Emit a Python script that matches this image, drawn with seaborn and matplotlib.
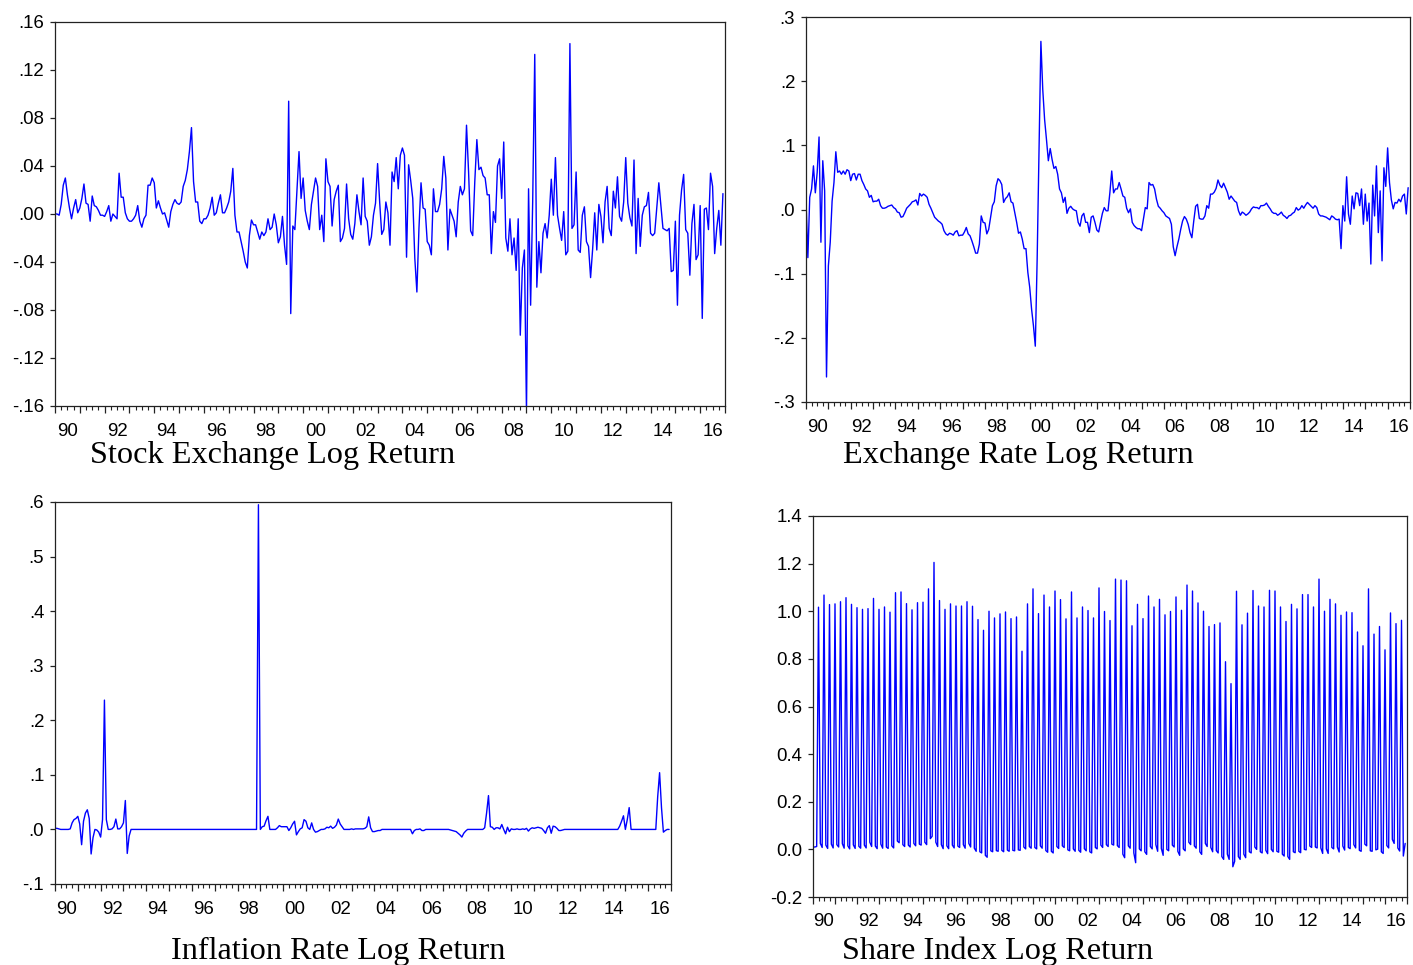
import numpy as np
import pandas as pd
import matplotlib
matplotlib.use("Agg")
import matplotlib.pyplot as plt
import matplotlib.transforms as mtransforms
from matplotlib.ticker import FuncFormatter, MultipleLocator
import seaborn as sns

# ---------------- data (monthly, 1990M01 - 2016M12) ----------------
start_year = 1990
end_year = 2017

stock_return = [
    0.000, 0.000, -0.001, 0.008, 0.024, 0.030, 0.016, 0.005, -0.004, 0.005, 0.012, 0.001,
    0.005, 0.013, 0.025, 0.009, 0.008, -0.006, 0.015, 0.007, 0.006, 0.003, -0.001, -0.001,
    -0.002, 0.002, 0.007, -0.006, 0.000, -0.002, -0.004, 0.034, 0.014, 0.014, 0.001, -0.004,
    -0.006, -0.006, -0.004, -0.001, 0.007, -0.006, -0.011, -0.004, -0.001, 0.024, 0.024, 0.030,
    0.026, 0.005, 0.011, 0.005, 0.000, 0.001, -0.005, -0.011, 0.002, 0.008, 0.012, 0.009,
    0.008, 0.010, 0.023, 0.028, 0.037, 0.052, 0.072, 0.027, 0.010, 0.010, -0.006, -0.008,
    -0.004, -0.004, -0.001, 0.005, 0.014, -0.001, 0.001, 0.009, 0.016, 0.001, 0.001, 0.005,
    0.010, 0.019, 0.038, -0.001, -0.015, -0.015, -0.023, -0.031, -0.040, -0.045, -0.018, -0.005,
    -0.009, -0.009, -0.015, -0.021, -0.015, -0.018, -0.015, -0.004, -0.013, -0.011, 0.000, -0.009,
    -0.024, -0.019, -0.002, -0.026, -0.042, 0.094, -0.083, -0.010, -0.013, 0.019, 0.052, 0.013,
    0.030, 0.003, -0.006, -0.013, 0.008, 0.019, 0.030, 0.023, -0.013, -0.001, -0.023, 0.046,
    0.027, 0.023, -0.010, 0.012, 0.019, 0.024, -0.023, -0.020, -0.012, 0.025, -0.004, -0.017,
    -0.021, -0.008, 0.016, 0.002, -0.009, 0.030, -0.002, -0.006, -0.026, -0.019, -0.001, 0.009,
    0.042, 0.010, -0.017, -0.013, 0.010, 0.001, -0.026, 0.035, 0.027, 0.047, 0.021, 0.049,
    0.055, 0.049, -0.036, 0.041, 0.028, 0.013, -0.037, -0.065, -0.012, 0.026, 0.005, 0.004,
    -0.023, -0.026, -0.034, 0.021, 0.002, 0.002, 0.008, 0.021, 0.048, 0.030, -0.030, 0.004,
    -0.001, -0.006, -0.019, 0.010, 0.023, 0.016, 0.021, 0.074, 0.035, -0.014, -0.018, 0.027,
    0.062, 0.037, 0.039, 0.032, 0.030, 0.016, 0.016, -0.033, 0.002, -0.007, 0.040, 0.046,
    0.013, 0.060, -0.020, -0.031, -0.004, -0.034, -0.020, -0.047, -0.004, -0.101, -0.045, -0.030,
    -0.165, 0.021, -0.076, 0.010, 0.133, -0.061, -0.023, -0.049, -0.016, -0.008, -0.020, -0.001,
    0.029, -0.001, 0.047, -0.001, -0.012, -0.022, 0.002, -0.034, -0.031, 0.142, -0.012, -0.009,
    0.035, -0.030, -0.032, -0.001, 0.006, -0.023, -0.027, -0.053, -0.029, 0.001, -0.030, 0.008,
    -0.002, -0.024, 0.010, 0.023, -0.012, -0.018, 0.019, 0.005, 0.031, -0.002, -0.006, 0.010,
    0.047, 0.009, -0.003, -0.010, 0.045, -0.033, 0.013, -0.027, -0.001, 0.006, 0.007, 0.018,
    -0.016, -0.018, -0.016, 0.005, 0.026, 0.007, -0.012, -0.013, -0.014, -0.012, -0.048, -0.047,
    -0.006, -0.076, -0.001, 0.020, 0.033, -0.013, -0.016, -0.051, -0.008, 0.008, -0.038, -0.034,
    0.007, -0.087, 0.004, 0.005, -0.013, 0.034, 0.023, -0.033, -0.012, 0.003, -0.026, 0.017,
]

exchange_return = [
    0.016, -0.075, 0.019, 0.032, 0.068, 0.026, 0.058, 0.113, -0.051, 0.076, 0.029, -0.261,
    -0.088, -0.051, 0.013, 0.042, 0.090, 0.058, 0.060, 0.055, 0.060, 0.055, 0.062, 0.060,
    0.045, 0.055, 0.056, 0.046, 0.055, 0.055, 0.045, 0.039, 0.032, 0.029, 0.019, 0.022,
    0.012, 0.013, 0.013, 0.016, 0.006, 0.002, 0.002, 0.003, 0.005, 0.006, 0.007, 0.003,
    0.001, -0.004, -0.005, -0.012, -0.011, -0.005, 0.002, 0.005, 0.008, 0.012, 0.013, 0.015,
    0.007, 0.025, 0.021, 0.024, 0.022, 0.019, 0.008, 0.002, -0.005, -0.012, -0.015, -0.018,
    -0.020, -0.023, -0.033, -0.038, -0.040, -0.037, -0.038, -0.040, -0.035, -0.033, -0.041, -0.040,
    -0.040, -0.035, -0.028, -0.038, -0.041, -0.049, -0.058, -0.068, -0.068, -0.054, -0.010, -0.020,
    -0.021, -0.038, -0.031, -0.012, 0.006, 0.012, 0.037, 0.048, 0.045, 0.039, 0.011, 0.017,
    0.020, 0.026, 0.012, 0.010, -0.005, -0.020, -0.037, -0.035, -0.046, -0.061, -0.061, -0.098,
    -0.121, -0.155, -0.181, -0.213, -0.077, 0.094, 0.262, 0.187, 0.140, 0.109, 0.076, 0.095,
    0.078, 0.064, 0.067, 0.055, 0.032, 0.026, 0.011, 0.019, -0.006, 0.002, 0.005, 0.001,
    -0.001, -0.002, -0.020, -0.026, -0.010, -0.006, -0.020, -0.020, -0.036, -0.012, -0.010, -0.020,
    -0.032, -0.035, -0.020, -0.006, 0.003, -0.002, -0.002, 0.026, 0.060, 0.026, 0.032, 0.032,
    0.042, 0.032, 0.021, 0.019, 0.002, -0.005, 0.001, -0.020, -0.025, -0.028, -0.030, -0.030,
    -0.033, -0.015, 0.003, 0.001, 0.042, 0.038, 0.039, 0.032, 0.016, 0.005, 0.002, -0.002,
    -0.005, -0.010, -0.012, -0.014, -0.023, -0.058, -0.072, -0.058, -0.046, -0.031, -0.018, -0.011,
    -0.015, -0.023, -0.036, -0.044, -0.018, 0.005, 0.008, -0.014, -0.015, -0.015, -0.010, 0.006,
    0.002, 0.024, 0.024, 0.027, 0.033, 0.046, 0.038, 0.034, 0.041, 0.034, 0.027, 0.016,
    0.021, 0.017, 0.013, 0.011, -0.002, -0.009, -0.004, -0.006, -0.009, -0.007, -0.004, 0.001,
    0.004, 0.003, 0.003, 0.001, 0.006, 0.006, 0.007, 0.010, 0.005, 0.001, -0.004, -0.006,
    -0.006, -0.009, -0.007, -0.004, -0.009, -0.011, -0.014, -0.010, -0.009, -0.006, -0.004, 0.003,
    -0.001, 0.001, 0.006, 0.002, 0.007, 0.011, 0.008, 0.005, 0.002, 0.006, 0.003, -0.007,
    -0.010, -0.010, -0.011, -0.012, -0.014, -0.016, -0.010, -0.012, -0.015, -0.016, -0.015, -0.061,
    0.006, -0.018, 0.051, -0.007, -0.023, 0.021, 0.001, 0.026, 0.025, 0.006, 0.032, -0.023,
    0.024, -0.018, 0.010, -0.085, 0.038, -0.010, 0.068, -0.036, 0.029, -0.080, 0.065, 0.036,
    0.096, 0.042, 0.015, 0.001, 0.011, 0.010, 0.016, 0.012, 0.021, 0.024, -0.007, 0.034,
]

inflation_return = [
    0.002, 0.002, 0.001, 0.000, 0.000, 0.000, 0.000, 0.000, 0.001, 0.012, 0.018, 0.020,
    0.024, 0.010, -0.028, 0.015, 0.030, 0.036, 0.020, -0.045, -0.015, 0.000, -0.001, -0.005,
    -0.014, 0.018, 0.237, 0.018, 0.000, 0.000, 0.001, 0.005, 0.019, 0.001, 0.001, 0.005,
    0.012, 0.053, -0.044, -0.012, 0.000, 0.000, 0.000, 0.000, 0.000, 0.000, 0.000, 0.000,
    0.000, 0.000, 0.000, 0.000, 0.000, 0.000, 0.000, 0.000, 0.000, 0.000, 0.000, 0.000,
    0.000, 0.000, 0.000, 0.000, 0.000, 0.000, 0.000, 0.000, 0.000, 0.000, 0.000, 0.000,
    0.000, 0.000, 0.000, 0.000, 0.000, 0.000, 0.000, 0.000, 0.000, 0.000, 0.000, 0.000,
    0.000, 0.000, 0.000, 0.000, 0.000, 0.000, 0.000, 0.000, 0.000, 0.000, 0.000, 0.000,
    0.000, 0.000, 0.000, 0.000, 0.000, 0.000, 0.000, 0.000, 0.000, 0.000, 0.000, 0.595,
    0.000, 0.005, 0.006, 0.016, 0.024, 0.000, 0.000, 0.000, 0.000, 0.003, 0.007, 0.005,
    0.005, 0.005, 0.005, -0.002, 0.003, 0.010, 0.015, -0.010, -0.004, 0.001, 0.003, 0.018,
    0.015, 0.003, 0.000, 0.012, 0.000, -0.005, -0.004, -0.002, 0.000, 0.000, 0.001, 0.004,
    0.003, 0.006, 0.002, 0.004, 0.008, 0.019, 0.010, 0.005, 0.000, 0.000, 0.000, 0.000,
    0.001, 0.000, 0.001, 0.001, 0.001, 0.001, 0.001, 0.002, 0.005, 0.023, 0.003, -0.004,
    -0.004, -0.003, -0.002, -0.002, 0.000, 0.000, 0.000, 0.000, 0.000, 0.000, 0.000, 0.000,
    0.000, 0.000, 0.000, 0.000, 0.000, 0.000, 0.000, 0.000, -0.008, -0.002, 0.000, 0.000,
    0.001, -0.002, -0.002, 0.000, 0.000, 0.000, 0.000, 0.000, 0.000, 0.000, 0.000, 0.000,
    0.000, 0.000, 0.000, 0.000, -0.001, -0.002, -0.003, -0.004, -0.007, -0.010, -0.014, -0.007,
    -0.003, 0.000, 0.000, 0.000, 0.000, 0.000, 0.000, 0.000, 0.000, 0.000, 0.003, 0.030,
    0.062, 0.005, 0.004, 0.000, 0.003, 0.003, 0.001, 0.009, 0.000, -0.008, 0.004, -0.004,
    0.001, 0.000, 0.000, 0.001, 0.000, 0.000, 0.001, 0.000, 0.002, -0.003, 0.001, 0.003,
    0.002, 0.003, 0.004, 0.003, 0.002, -0.002, -0.007, 0.003, 0.007, -0.007, 0.006, 0.005,
    0.002, -0.002, -0.002, -0.001, 0.000, 0.000, 0.000, 0.000, 0.000, 0.000, 0.000, 0.000,
    0.000, 0.000, 0.000, 0.000, 0.000, 0.000, 0.000, 0.000, 0.000, 0.000, 0.000, 0.000,
    0.000, 0.000, 0.000, 0.000, 0.000, 0.000, 0.000, 0.000, 0.000, 0.006, 0.015, 0.025,
    0.000, 0.018, 0.040, 0.000, 0.000, 0.000, 0.000, 0.000, 0.000, 0.000, 0.000, 0.000,
    0.000, 0.000, 0.000, 0.000, 0.000, 0.060, 0.104, 0.040, -0.005, -0.002, 0.000, 0.000,
]

share_return = [
    0.010, 0.010, 0.012, 1.017, 0.025, 0.008, 1.068, 0.018, 0.004, 1.028, 0.022, 0.006,
    1.031, 0.020, 0.010, 1.040, 0.024, 0.005, 1.057, 0.015, 0.002, 1.029, 0.019, 0.004,
    1.015, 0.013, 0.005, 1.008, 0.018, 0.006, 1.011, 0.030, 0.012, 1.054, 0.014, 0.003,
    1.008, 0.022, 0.005, 1.018, 0.010, 0.004, 0.996, 0.015, 0.006, 1.078, 0.035, 0.028,
    1.081, 0.020, 0.012, 1.032, 0.018, 0.010, 1.006, 0.025, 0.015, 1.036, 0.022, 0.018,
    1.038, 0.030, 0.020, 1.094, 0.045, 0.055, 1.205, 0.030, 0.012, 1.045, 0.020, 0.003,
    1.008, 0.015, 0.003, 1.031, 0.018, 0.006, 1.022, 0.014, 0.008, 1.022, 0.020, 0.005,
    1.040, 0.025, 0.010, 1.021, 0.005, -0.008, 0.965, -0.010, -0.015, 0.920, -0.025, -0.033,
    1.000, -0.006, -0.010, 0.972, -0.005, -0.008, 0.989, -0.004, -0.010, 0.997, -0.003, -0.008,
    0.969, -0.004, -0.006, 0.976, -0.002, -0.004, 0.832, 0.010, 0.002, 1.031, 0.012, 0.005,
    1.094, 0.008, 0.002, 0.990, 0.015, 0.005, 1.068, -0.005, -0.012, 1.018, -0.008, -0.015,
    1.085, 0.012, 0.004, 1.049, 0.015, 0.008, 0.968, -0.002, -0.006, 1.081, 0.002, -0.008,
    0.972, -0.004, -0.012, 1.018, 0.003, -0.006, 1.003, -0.010, -0.015, 0.972, 0.008, 0.002,
    1.098, 0.018, 0.008, 0.999, 0.020, 0.012, 0.961, 0.022, 0.018, 1.135, 0.016, 0.008,
    1.131, -0.020, -0.035, 1.128, 0.015, 0.005, 0.939, -0.015, -0.056, 1.029, 0.002, -0.006,
    0.969, -0.010, -0.021, 1.064, 0.012, 0.002, 1.018, 0.020, -0.008, 1.050, 0.004, -0.025,
    0.985, 0.000, -0.006, 0.999, 0.018, 0.010, 1.060, -0.008, -0.025, 1.004, 0.002, -0.006,
    1.110, 0.030, 0.020, 1.085, 0.015, 0.005, 1.035, -0.010, -0.021, 1.000, 0.025, 0.012,
    0.936, 0.008, -0.010, 0.944, -0.005, -0.015, 0.951, -0.030, -0.042, 0.788, -0.020, -0.042,
    0.696, -0.073, -0.050, 1.084, -0.030, -0.042, 0.943, -0.020, -0.035, 0.992, -0.010, -0.015,
    1.087, 0.010, 0.000, 1.022, -0.010, -0.015, 1.018, -0.004, -0.018, 1.088, 0.000, -0.010,
    1.085, -0.008, -0.012, 1.018, -0.020, -0.028, 0.957, -0.030, -0.042, 1.029, -0.010, -0.014,
    1.010, -0.008, -0.014, 1.070, 0.000, -0.002, 1.070, 0.014, 0.008, 1.018, 0.010, 0.006,
    1.135, 0.006, -0.017, 1.000, 0.002, -0.017, 1.050, 0.008, 0.002, 1.031, 0.010, -0.011,
    0.983, 0.014, -0.003, 0.997, 0.008, 0.003, 0.994, 0.020, 0.006, 0.913, -0.004, -0.008,
    0.855, 0.022, 0.015, 1.094, -0.006, -0.008, 0.904, -0.002, 0.001, 0.936, -0.010, -0.017,
    0.838, 0.016, 0.006, 0.993, 0.042, 0.025, 0.948, 0.006, -0.007, 0.962, -0.028, 0.025,
]

titles = ["Stock Exchange Log Return", "Exchange Rate Log Return",
          "Inflation Rate Log Return", "Share Index Log Return"]
year_labels = ["90", "92", "94", "96", "98", "00", "02", "04",
               "06", "08", "10", "12", "14", "16"]
label_years = list(range(1990, 2017, 2))

# ---------------- style ----------------
sns.set_theme(style="ticks")
plt.rcParams["font.family"] = ["Liberation Sans", "DejaVu Sans"]
plt.rcParams["axes.linewidth"] = 0.9
plt.rcParams["axes.edgecolor"] = "#222222"

W, H = 1413, 965
fig = plt.figure(figsize=(W / 100, H / 100), dpi=100)
fig.patch.set_facecolor("white")

# axes rectangles in pixels: left, right, top, bottom
rects = [(55, 725, 22, 406), (806, 1410, 17, 402), (55, 671, 502, 884), (813, 1407, 516, 897)]
title_pos = [(273, 463), (1018, 463), (338, 959), (998, 959)]
series = [stock_return, exchange_return, inflation_return, share_return]
ylims = [(-0.16, 0.16), (-0.3, 0.3), (-0.1, 0.6), (-0.2, 1.4)]
ysteps = [0.04, 0.1, 0.1, 0.2]


def eviews_fmt(decimals, strip):
    def f(v, pos):
        s = f"{v:.{decimals}f}"
        if s.startswith("-") and float(s) == 0:
            s = s[1:]
        if strip:
            s = s.replace("0.", ".", 1) if s.startswith("0.") else s.replace("-0.", "-.", 1)
        return s
    return f


fmts = [eviews_fmt(2, True), eviews_fmt(1, True), eviews_fmt(1, True), eviews_fmt(1, False)]

n = len(stock_return)
dates = start_year + np.arange(n) / 12.0

for k in range(4):
    l, r, t, b = rects[k]
    ax = fig.add_axes([l / W, 1 - b / H, (r - l) / W, (b - t) / H])
    df = pd.DataFrame({"date": dates, "value": series[k]})
    sns.lineplot(data=df, x="date", y="value", ax=ax, color="#0000FF",
                 linewidth=1.0, estimator=None)
    ax.set_xlim(start_year, end_year)
    ax.set_ylim(*ylims[k])
    ax.set_xlabel("")
    ax.set_ylabel("")
    ax.yaxis.set_major_locator(MultipleLocator(ysteps[k]))
    ax.yaxis.set_major_formatter(FuncFormatter(fmts[k]))
    ax.set_xticks(np.arange(start_year, end_year + 1))
    ax.set_xticklabels([])
    ax.set_xticks(np.arange(start_year, end_year, 0.25), minor=True)
    ax.tick_params(axis="x", which="major", direction="out", length=4.8, width=0.9,
                   color="#222222")
    ax.tick_params(axis="x", which="minor", direction="out", length=3.0, width=0.8,
                   color="#222222")
    ax.tick_params(axis="y", which="major", direction="out", length=3.8, width=0.9,
                   labelsize=13.4, pad=4, color="#222222", labelcolor="black")
    for sp in ax.spines.values():
        sp.set_visible(True)
        sp.set_linewidth(0.9)
        sp.set_color("#222222")
    ax.grid(False)
    ax.set_facecolor("white")
    trans = mtransforms.blended_transform_factory(ax.transData, ax.transAxes)
    trans = mtransforms.offset_copy(trans, fig=fig, x=0, y=-29.5, units="dots")
    for yr, lab in zip(label_years, year_labels):
        ax.text(yr + 0.5, 0, lab, transform=trans, ha="center", va="baseline",
                fontsize=13.4, color="black")
    tx, ty = title_pos[k]
    fig.text(tx / W, 1 - ty / H, titles[k], ha="center", va="baseline",
             fontsize=23.2, family=["Liberation Serif", "DejaVu Serif"], color="black")

fig.savefig("out.png", dpi=100, facecolor="white")
